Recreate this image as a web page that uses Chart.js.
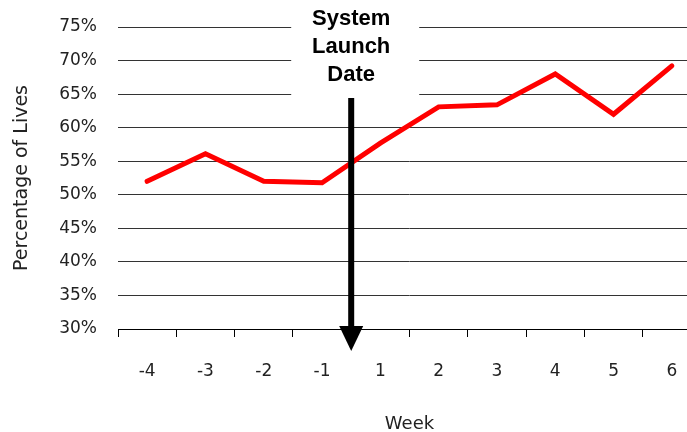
<!DOCTYPE html>
<html>
<head>
<meta charset="utf-8">
<script src="https://cdn.jsdelivr.net/npm/chart.js@4/dist/chart.umd.min.js"></script>
<style>
  html, body { margin: 0; padding: 0; background: #fff; overflow: hidden; }
  #wrap { width: 687px; height: 432px; overflow: hidden; }
  canvas { display: block; }
</style>
</head>
<body>
<div id="wrap"><canvas id="chart" width="705" height="432"></canvas></div>
<script>
// Weeks relative to the system launch
const weeks = ['-4', '-3', '-2', '-1', '1', '2', '3', '4', '5', '6'];
// Percentage of lives per week
const lives = [52.0, 56.1, 52.0, 51.8, 57.7, 63.1, 63.4, 68.0, 62.0, 69.2];
// Y axis range (percent)
const yMin = 30, yMax = 75, yStep = 5;
// Annotation text and where it sits (between these two weeks)
const launchLines = ['System', 'Launch', 'Date'];
const launchBetween = ['-1', '1'];

const FONT = '"DejaVu Sans", sans-serif';

const launchMarker = {
  id: 'launchMarker',
  launchX(chart) {
    const x = chart.scales.x;
    const a = x.getPixelForValue(weeks.indexOf(launchBetween[0]));
    const b = x.getPixelForValue(weeks.indexOf(launchBetween[1]));
    return (a + b) / 2;
  },
  beforeDatasetsDraw(chart) {
    const ctx = chart.ctx;
    const cx = this.launchX(chart);
    ctx.save();
    // white label box over the top gridlines
    ctx.fillStyle = '#fff';
    ctx.fillRect(cx - 60, 0, 128, 96);
    ctx.fillStyle = '#000';
    ctx.font = 'bold 22px "Liberation Sans", sans-serif';
    ctx.textAlign = 'center';
    ctx.textBaseline = 'middle';
    launchLines.forEach((t, i) => ctx.fillText(t, cx, 19 + i * 28));
    ctx.restore();
  },
  afterDatasetsDraw(chart) {
    const ctx = chart.ctx;
    const cx = this.launchX(chart);
    const bottom = chart.chartArea.bottom;
    ctx.save();
    ctx.fillStyle = '#000';
    // shaft
    ctx.fillRect(cx - 3, 98, 6, bottom - 98);
    // head
    ctx.beginPath();
    ctx.moveTo(cx - 12, bottom - 3);
    ctx.lineTo(cx + 12, bottom - 3);
    ctx.lineTo(cx, bottom + 22);
    ctx.closePath();
    ctx.fill();
    ctx.restore();
  }
};

new Chart(document.getElementById('chart'), {
  type: 'line',
  data: {
    labels: weeks,
    datasets: [{
      data: lives,
      borderColor: '#ff0000',
      borderWidth: 5,
      borderCapStyle: 'round',
      borderJoinStyle: 'miter',
      pointRadius: 0,
      tension: 0,
      fill: false
    }]
  },
  options: {
    responsive: false,
    animation: false,
    devicePixelRatio: 1,
    layout: { padding: { top: 27, right: 4, left: 0, bottom: 0 } },
    plugins: { legend: { display: false }, tooltip: { enabled: false } },
    scales: {
      x: {
        offset: true,
        grid: {
          offset: true,
          drawOnChartArea: false,
          drawTicks: true,
          tickLength: 8,
          color: '#000',
          lineWidth: 1
        },
        border: { display: true, color: '#000', width: 1 },
        ticks: { color: '#222', font: { family: FONT, size: 17 }, padding: 24, maxRotation: 0 },
        title: {
          display: true, text: 'Week', color: '#222',
          font: { family: FONT, size: 18, lineHeight: 0.8 },
          padding: { top: 0, bottom: 0 }
        },
        afterFit(scale) { scale.height = 103; }
      },
      y: {
        min: yMin, max: yMax,
        grid: { color: '#333', lineWidth: 1, drawTicks: false },
        border: { display: false },
        ticks: {
          stepSize: yStep, color: '#222', padding: 21,
          font: { family: FONT, size: 17 },
          callback: v => v + '%'
        },
        title: {
          display: true, text: 'Percentage of Lives', color: '#222',
          font: { family: FONT, size: 19, lineHeight: 1.2 },
          padding: { top: 11, bottom: 0 }
        },
        afterFit(scale) {
          // fixed axis width; the plot area is placed by layout padding alone
          scale.width = 118;
          scale.paddingTop = 0;
          scale.paddingBottom = 0;
        }
      }
    }
  },
  plugins: [launchMarker]
});
</script>
</body>
</html>
